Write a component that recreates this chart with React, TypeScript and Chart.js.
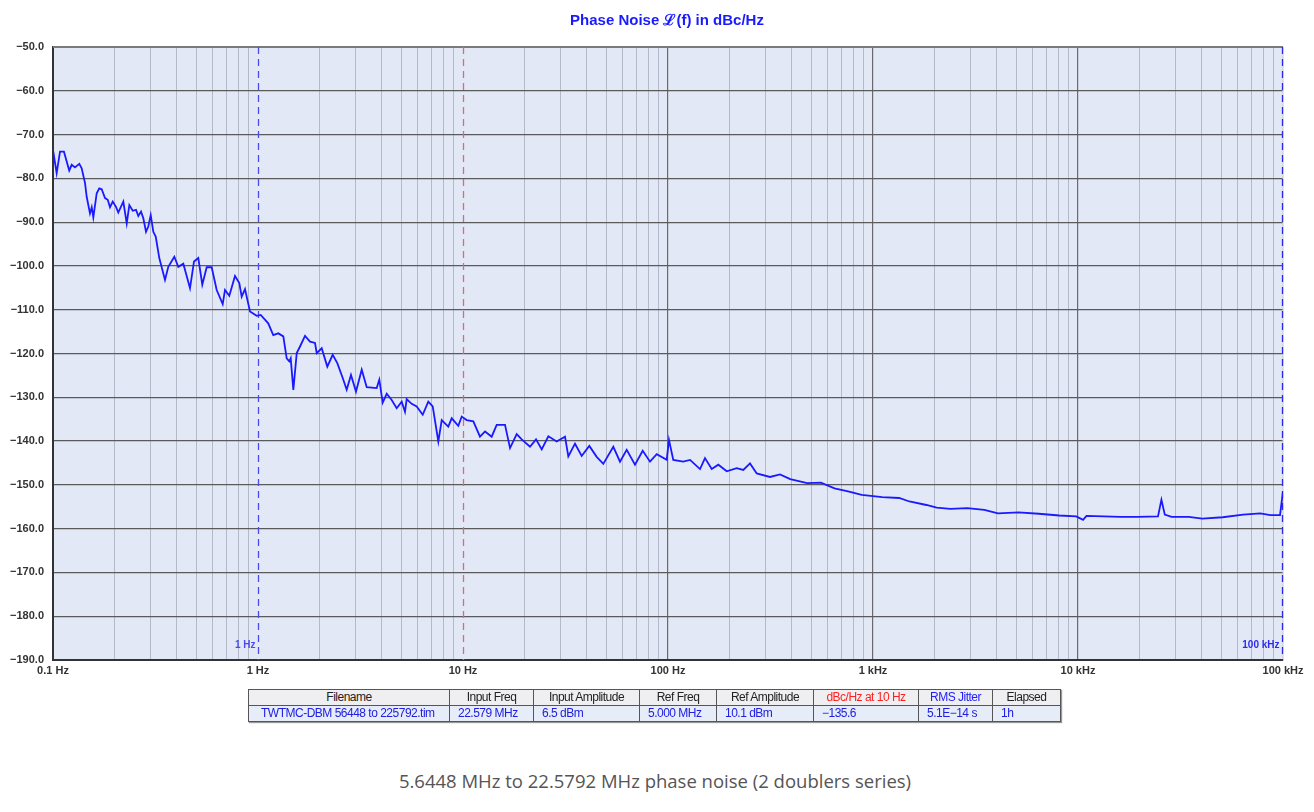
import { useEffect, useRef } from "react";
import { Chart, registerables } from "chart.js";

Chart.register(...registerables);

// ---------- data ----------
const freqHz = [
  0.1, 0.1042, 0.1082, 0.1131, 0.12, 0.1234, 0.128, 0.1344, 0.138, 0.1433,
  0.146, 0.1515, 0.1545, 0.1573, 0.1634, 0.1682, 0.1728, 0.1794, 0.1849, 0.1897,
  0.1956, 0.2029, 0.2082, 0.2203, 0.2289, 0.2357, 0.2449, 0.2541, 0.2608, 0.2688,
  0.2758, 0.2843, 0.2917, 0.2997, 0.3086, 0.317, 0.33, 0.3518, 0.3651, 0.3906,
  0.4086, 0.4322, 0.4659, 0.4873, 0.5114, 0.5349, 0.562, 0.5943, 0.6288, 0.6727,
  0.6902, 0.7244, 0.7724, 0.8105, 0.8326, 0.8641, 0.9141, 0.9856, 1.031, 1.122,
  1.187, 1.256, 1.329, 1.38, 1.421, 1.444, 1.487, 1.545, 1.603, 1.696,
  1.794, 1.897, 1.934, 2.045, 2.178, 2.314, 2.437, 2.59, 2.708, 2.842,
  3.006, 3.206, 3.391, 3.793, 3.906, 4.058, 4.245, 4.489, 4.749, 5.023,
  5.212, 5.313, 5.62, 5.943, 6.36, 6.772, 7.116, 7.579, 7.875, 8.479,
  8.809, 9.487, 9.856, 10.42, 11.23, 12.1, 12.81, 13.8, 14.6, 16.03,
  16.96, 18.28, 19.34, 21.22, 22.71, 24.21, 26.08, 28.64, 31.45, 32.64,
  35.18, 37.93, 41.32, 44.89, 48.35, 54.1, 58.33, 62.88, 69.02, 75.27,
  81.71, 88.1, 98.56, 101.1, 106.1, 118.7, 128.1, 143.3, 151.5, 163.4,
  176.0, 193.4, 216.3, 233.0, 251.2, 270.9, 314.5, 351.8, 394.6, 477.5,
  557.0, 649.0, 755.9, 881.0, 1109, 1342, 1505, 1822, 2045, 2383,
  2884, 3491, 4072, 5121, 6440, 8102, 9810, 10590, 11000, 13320,
  16140, 19530, 24560, 25520, 26510, 28610, 34670, 40400, 50800, 63950,
  77410, 86790, 96700, 100000,
];

const phaseNoiseDbc = [
  -73.5, -78.8, -73.9, -73.9, -78.2, -76.9, -77.5, -76.7, -77.7, -81.1,
  -84.2, -88.0, -86.6, -88.9, -83.4, -82.3, -82.5, -84.5, -84.9, -86.6,
  -85.3, -86.5, -87.8, -85.3, -90.3, -86.1, -87.4, -87.2, -88.6, -87.6,
  -89.1, -92.2, -91.0, -88.4, -92.2, -93.3, -98.2, -103.2, -100.2, -97.9,
  -100.2, -99.5, -105.1, -99.0, -98.2, -104.3, -100.3, -100.3, -105.5, -108.7,
  -105.5, -106.8, -102.3, -103.9, -107.0, -105.3, -110.4, -111.4, -111.2, -113.1,
  -115.8, -115.4, -116.1, -121.1, -121.8, -121.1, -128.3, -119.9, -118.4, -116.0,
  -117.3, -117.6, -119.9, -118.8, -123.0, -120.3, -122.2, -125.6, -128.3, -124.9,
  -128.7, -123.7, -127.7, -127.9, -126.0, -131.2, -129.2, -130.6, -132.5, -131.0,
  -133.3, -130.4, -131.5, -132.1, -134.0, -131.0, -132.1, -140.1, -135.2, -136.7,
  -134.8, -136.5, -134.4, -135.2, -135.5, -139.0, -137.8, -139.0, -136.3, -136.3,
  -141.6, -138.4, -139.6, -141.3, -139.6, -141.9, -138.9, -140.1, -139.0, -143.5,
  -140.6, -143.4, -141.1, -143.6, -145.2, -141.3, -144.7, -142.0, -145.4, -142.2,
  -144.7, -143.0, -144.3, -139.7, -144.3, -144.7, -144.3, -146.4, -143.9, -146.4,
  -145.4, -146.9, -146.2, -146.6, -145.1, -147.4, -148.2, -147.6, -148.7, -149.6,
  -149.5, -150.8, -151.5, -152.3, -152.8, -153.0, -153.8, -154.6, -155.2, -155.5,
  -155.3, -155.7, -156.5, -156.3, -156.6, -157.0, -157.2, -158.0, -157.1, -157.2,
  -157.3, -157.3, -157.2, -153.4, -156.8, -157.3, -157.3, -157.7, -157.4, -156.8,
  -156.5, -156.9, -156.9, -151.5,
];

const xMin = 0.1;
const xMax = 100000;
const yMin = -190;
const yMax = -50;
const yStep = 10;

const decadeValues = [0.1, 1, 10, 100, 1000, 10000, 100000];
const decadeLabels = ["0.1 Hz", "1 Hz", "10 Hz", "100 Hz", "1 kHz", "10 kHz", "100 kHz"];

const markerFreqs = [1, 10, 100000];
const markerLabels = ["1 Hz", "", "100 kHz"];
const markerColors = ["#4a4af2", "#e06a6a", "#2a2af0"];

const titleText = "Phase Noise \u2112(f) in dBc/Hz";
const captionText = "5.6448 MHz to 22.5792 MHz phase noise (2 doublers series)";

const tableHeaders = [
  "Filename",
  "Input Freq",
  "Input Amplitude",
  "Ref Freq",
  "Ref Amplitude",
  "dBc/Hz at 10 Hz",
  "RMS Jitter",
  "Elapsed",
];
const tableHeaderColors = ["#222", "#222", "#222", "#222", "#222", "#ff2020", "#2020ff", "#222"];
const tableValues = [
  "TWTMC-DBM 56448 to 225792.tim",
  "22.579 MHz",
  "6.5 dBm",
  "5.000 MHz",
  "10.1 dBm",
  "\u2212135.6",
  "5.1E\u221214 s",
  "1h",
];
const tableColWidths = [201, 84, 106, 77, 97, 105, 74, 68];

// ---------- helpers ----------
const FONT = "'Liberation Sans', Arial, Helvetica, sans-serif";

function isDecade(v: number) {
  const l = Math.log10(v);
  return Math.abs(l - Math.round(l)) < 1e-6;
}

function isMarker(v: number) {
  return markerFreqs.some((m) => Math.abs(Math.log10(v) - Math.log10(m)) < 1e-6);
}

function decadeLabel(v: number) {
  for (let i = 0; i < decadeValues.length; i++) {
    if (Math.abs(Math.log10(v) - Math.log10(decadeValues[i])) < 1e-6) return decadeLabels[i];
  }
  return "";
}

const decorPlugin = {
  id: "decor",
  beforeDraw(chart: any) {
    const { ctx, chartArea: a } = chart;
    ctx.save();
    ctx.fillStyle = "#e2e8f6";
    ctx.fillRect(a.left, a.top, a.right - a.left, a.bottom - a.top);
    ctx.restore();
  },
  beforeDatasetsDraw(chart: any) {
    const { ctx, chartArea: a } = chart;
    const xs = chart.scales.x;
    ctx.save();
    ctx.strokeStyle = "#7a7a7a";
    ctx.lineWidth = 2;
    ctx.beginPath();
    ctx.moveTo(a.left, a.top);
    ctx.lineTo(a.right, a.top);
    ctx.stroke();
    ctx.strokeStyle = "#c4c8d4";
    ctx.lineWidth = 1;
    ctx.beginPath();
    ctx.moveTo(a.right, a.top);
    ctx.lineTo(a.right, a.bottom);
    ctx.stroke();
    markerFreqs.forEach((f, i) => {
      const x = Math.round(xs.getPixelForValue(f)) - (f === xMax ? 1 : 0) + 0.5;
      ctx.strokeStyle = markerColors[i];
      ctx.lineWidth = 1.3;
      ctx.setLineDash([7, 5]);
      ctx.beginPath();
      ctx.moveTo(x, a.top);
      ctx.lineTo(x, a.bottom);
      ctx.stroke();
      ctx.setLineDash([]);
      if (markerLabels[i]) {
        ctx.fillStyle = markerColors[i];
        ctx.font = "bold 10px " + FONT;
        ctx.textAlign = "right";
        ctx.textBaseline = "middle";
        ctx.fillText(markerLabels[i], x - 3, a.bottom - 15);
      }
    });
    ctx.restore();
  },
};

function PhaseNoiseChart() {
  const ref = useRef<HTMLCanvasElement | null>(null);
  useEffect(() => {
    if (!ref.current) return;
    const chart = new Chart(ref.current, {
      type: "line",
      data: {
        datasets: [
          {
            data: freqHz.map((f, i) => ({ x: f, y: phaseNoiseDbc[i] })),
            borderColor: "#1a1aff",
            borderWidth: 1.8,
            pointRadius: 0,
            tension: 0,
            fill: false,
          },
        ],
      },
      options: {
        responsive: false,
        animation: false,
        layout: { padding: { left: 0, right: 31, top: 47, bottom: 0 } },
        plugins: {
          legend: { display: false },
          tooltip: { enabled: false },
          title: { display: false },
        },
        scales: {
          x: {
            type: "logarithmic",
            min: xMin,
            max: xMax,
            afterBuildTicks(scale: any) {
              const ticks: any[] = [];
              for (let d = 0; d < decadeValues.length - 1; d++) {
                for (let k = 1; k <= 9; k++) ticks.push({ value: decadeValues[d] * k });
              }
              ticks.push({ value: xMax });
              scale.ticks = ticks;
            },
            afterFit(scale: any) {
              scale.height = 30;
            },
            ticks: {
              autoSkip: false,
              maxRotation: 0,
              padding: 4,
              color: "#333",
              font: { family: FONT, size: 11, weight: "bold" },
              callback: (v: any) => decadeLabel(Number(v)),
            },
            grid: {
              drawTicks: false,
              color: (ctx: any) => {
                if (!ctx.tick) return "#b4bac9";
                if (isMarker(ctx.tick.value)) return "rgba(0,0,0,0)";
                return isDecade(ctx.tick.value) ? "#6a6a6a" : "#b4bac9";
              },
              lineWidth: (ctx: any) => (ctx.tick && isDecade(ctx.tick.value) ? 1.2 : 1),
            },
            border: { display: true, color: "#333", width: 2 },
          },
          y: {
            type: "linear",
            min: yMin,
            max: yMax,
            afterFit(scale: any) {
              scale.width = 53;
            },
            ticks: {
              stepSize: yStep,
              padding: 9,
              color: "#333",
              font: { family: FONT, size: 11, weight: "bold" },
              callback: (v: any) => {
                const n = Number(v);
                return (n < 0 ? "\u2212" : "") + Math.abs(n).toFixed(1);
              },
            },
            grid: { drawTicks: false, color: "#5a5a5a", lineWidth: 1.2 },
            border: { display: true, color: "#333", width: 2 },
          },
        },
      },
      plugins: [decorPlugin],
    } as any);
    return () => chart.destroy();
  }, []);
  return (
    <canvas
      ref={ref}
      width={1314}
      height={690}
      style={{ position: "absolute", left: 0, top: 0, width: 1314, height: 690 }}
    />
  );
}

export default function App() {
  const cell: any = {
    border: "1px solid #555",
    padding: "0 0 0 0",
    height: 15,
    fontFamily: "'Liberation Sans Narrow', 'Arial Narrow', 'Liberation Sans', Arial, sans-serif",
    fontSize: 12,
    letterSpacing: "-0.5px",
    lineHeight: "15px",
    whiteSpace: "nowrap",
    overflow: "hidden",
  };
  return (
    <div
      style={{
        position: "absolute",
        left: 0,
        top: 0,
        width: 1314,
        height: 812,
        background: "#fff",
        overflow: "hidden",
      }}
    >
      <PhaseNoiseChart />
      <div
        style={{
          position: "absolute",
          left: 0,
          top: 9,
          width: 1334,
          textAlign: "center",
          fontFamily: FONT,
          fontWeight: "bold",
          fontSize: 15,
          color: "#1a1aff",
        }}
      >
        {titleText}
      </div>
      <table
        style={{
          position: "absolute",
          left: 248,
          top: 689,
          width: 812,
          borderCollapse: "collapse",
          tableLayout: "fixed",
          border: "1.5px solid #333",
          boxShadow: "1px 1px 1px #999",
        }}
      >
        <colgroup>
          {tableColWidths.map((w, i) => (
            <col key={i} style={{ width: w }} />
          ))}
        </colgroup>
        <tbody>
          <tr style={{ background: "#efeff2" }}>
            {tableHeaders.map((h, i) => (
              <td key={i} style={{ ...cell, textAlign: "center", color: tableHeaderColors[i] }}>
                {h}
              </td>
            ))}
          </tr>
          <tr style={{ background: "#e6ecf8" }}>
            {tableValues.map((v, i) => (
              <td
                key={i}
                style={{
                  ...cell,
                  textAlign: "left",
                  paddingLeft: i === 0 ? 12 : 8,
                  color: "#2020e0",
                }}
              >
                {v}
              </td>
            ))}
          </tr>
        </tbody>
      </table>
      <div
        style={{
          position: "absolute",
          left: 0,
          top: 768,
          width: 1310,
          textAlign: "center",
          fontFamily: "'Open Sans', 'Noto Sans', sans-serif",
          fontSize: 18.5,
          color: "#555",
        }}
      >
        {captionText}
      </div>
    </div>
  );
}
